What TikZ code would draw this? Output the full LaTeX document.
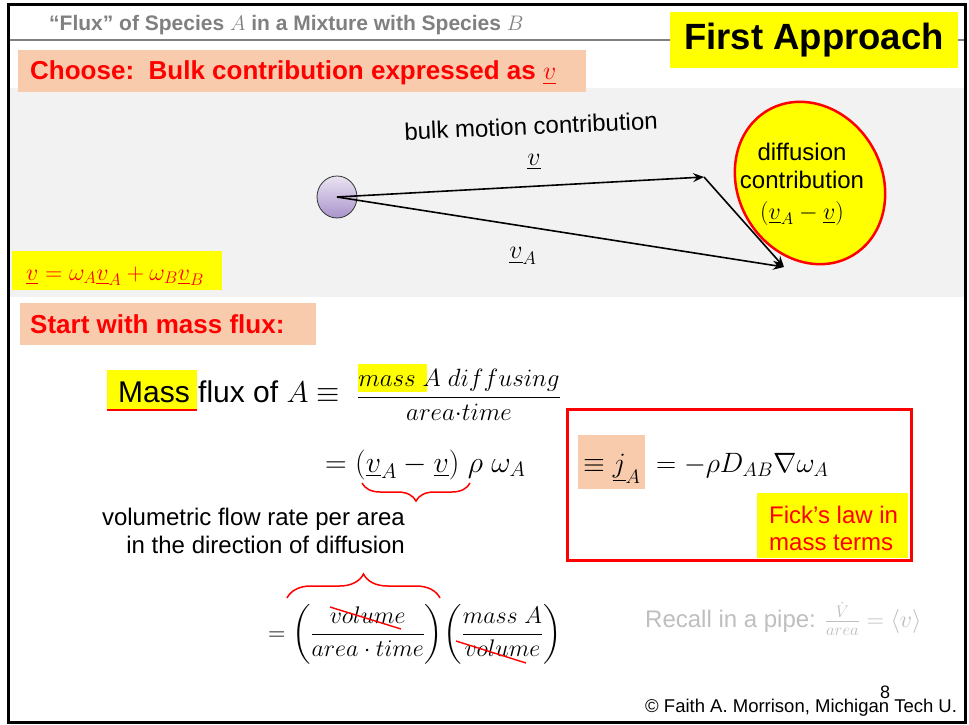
\RequirePackage{fix-cm}
\documentclass[tikz,border=0pt]{standalone}
\usepackage{amsmath}
\usepackage{fontspec}
\setmainfont{Liberation Sans}
\usetikzlibrary{arrows.meta,decorations.pathreplacing,shapes.geometric}
\definecolor{peach}{HTML}{F8CBAD}
\definecolor{hlyellow}{HTML}{FFFF00}
\definecolor{bandgray}{HTML}{F2F2F2}
\definecolor{hdrgray}{HTML}{808080}
\definecolor{lightgray}{HTML}{BFBFBF}
\definecolor{ballhi}{HTML}{EAE4F2}
\definecolor{balllo}{HTML}{A993CC}
\newcommand{\uvec}[1]{\underline{#1}}
\newcommand{\fsz}[1]{\fontsize{#1}{#1}\selectfont}
\tikzset{
  vecarrow/.style={line width=1.6pt,-{Stealth[length=11pt,width=9pt,inset=4pt]}},
  redbrace/.style={red,line width=1.5pt,decorate,decoration={brace,amplitude=#1}},
  strike/.style={red,line width=1.4pt},
  lbl/.style={inner sep=0pt},
}
\begin{document}
\begin{tikzpicture}[x=1pt,y=-1pt]
\useasboundingbox (0,0) rectangle (969,725);
\fill[white] (0,0) rectangle (969,725);
% bands and frame
\fill[bandgray] (9,88) rectangle (964,297);
\draw[hdrgray,line width=1.5pt] (9,40) -- (964,40);
% header
\node[lbl,anchor=base west,text=hdrgray,font=\bfseries\fsz{21}] (hdr) at (49,31) {“Flux” of Species $A$ in a Mixture with Species $B$};
\node[fill=hlyellow,minimum width=288pt,minimum height=56pt,inner sep=0pt,font=\bfseries\fsz{36.5}] (fa) at (814,40) {First Approach};
% choose box
\fill[peach] (18,50) rectangle (586,92);
\node[lbl,anchor=base west,text=red,font=\bfseries\fsz{26}] (choose) at (30,80) {Choose:\ \ Bulk contribution expressed as $\uvec{v}$};
% ellipse
\draw[red,line width=2.5pt,fill=hlyellow] (810,183) ellipse [x radius=72,y radius=84,rotate=30];
\node[lbl,font=\fsz{24},align=center] (diff) at (802,152) {diffusion};
\node[lbl,font=\fsz{24},align=center] (contr) at (802,180) {contribution};
\node[lbl,font=\fsz{24}] (dv) at (802,213) {$(\uvec{v}_A-\uvec{v})$};
% particle and vectors
\shade[top color=ballhi,bottom color=balllo,draw=black!80,line width=0.8pt] (337,197) ellipse [x radius=20,y radius=21];
\coordinate (p) at (337,197);
\coordinate (t1) at (704,177);
\coordinate (t2) at (784,267);
\draw[vecarrow] (p) -- (t1);
\draw[vecarrow] (p) -- (t2);
\draw[vecarrow] (t1) -- (t2);
\node[lbl,rotate=2.5,font=\fsz{24}] (bulk) at (531,126) {bulk motion contribution};
\node[lbl,font=\fsz{26}] (vlab) at (534,162) {$\uvec{v}$};
\node[lbl,font=\fsz{26}] (valab) at (523,256) {$\uvec{v}_A$};
% mixture velocity
\fill[hlyellow] (12,251) rectangle (222,290);
\node[lbl,anchor=base west,text=red,font=\fsz{24}] (mixv) at (26,280) {$\uvec{v}=\omega_A\uvec{v}_A+\omega_B\uvec{v}_B$};
% start box
\fill[peach] (20,303) rectangle (316,345);
\node[lbl,anchor=base west,text=red,font=\bfseries\fsz{26}] (start) at (30,333) {Start with mass flux:};
% mass flux definition
\fill[hlyellow] (107,370) rectangle (197,409);
\draw[red,line width=2pt] (107,410) -- (197,410);
\fill[hlyellow] (358,364) rectangle (427,392);
\node[lbl,anchor=base west,font=\fsz{30}] (mflux) at (118,402) {Mass flux of $A\equiv$};
\node[lbl,anchor=west,font=\fsz{25}] (frac1) at (357,395) {$\dfrac{mass\;A\;diffusing}{area{\cdot}time}$};
\node[lbl,anchor=base west,font=\fsz{30}] (eq2) at (325,472) {$=(\uvec{v}_A-\uvec{v})\;\rho\;\omega_A$};
\draw[redbrace=18pt] (470,483) -- (362,483);
\node[lbl,anchor=base east,font=\fsz{24}] (vfr) at (405,525) {volumetric flow rate per area};
\node[lbl,anchor=base east,font=\fsz{24}] (dir) at (405,553) {in the direction of diffusion};
\draw[redbrace=24pt] (287,598) -- (440,598);
\node[lbl,anchor=west,font=\fsz{24}] (eq3) at (268,634) {$=\left(\dfrac{volume}{area\cdot time}\right)\!\left(\dfrac{mass\;A}{volume}\right)$};
\draw[strike] (330,607) -- (401,629);
\draw[strike] (456,641) -- (526,663);
% Fick box
\draw[red,line width=3pt] (567,409) rectangle (911,560);
\fill[peach] (578,435) rectangle (645,489);
\node[lbl,anchor=base west,font=\fsz{28}] (fick) at (583,472) {$\equiv\uvec{j}_A\;=-\rho D_{AB}\nabla\omega_A$};
\fill[hlyellow] (757,493) rectangle (908,558);
\node[lbl,anchor=base west,text=red,font=\fsz{24}] (fick1) at (769,523) {Fick’s law in};
\node[lbl,anchor=base west,text=red,font=\fsz{24}] (fick2) at (769,550) {mass terms};
% recall
\node[lbl,anchor=base west,text=lightgray,font=\fsz{24}] (recall) at (645,627) {Recall in a pipe: $\frac{\dot V}{area}=\langle v\rangle$};
% footer
\node[lbl,anchor=base west,font=\fsz{18.5}] (copy) at (645,712) {© Faith A. Morrison, Michigan Tech U.};
\node[lbl,font=\rmfamily\fsz{18}] (pg) at (885,692) {8};
\draw[line width=3pt] (8,5) rectangle (965,722);
\end{tikzpicture}
\end{document}
